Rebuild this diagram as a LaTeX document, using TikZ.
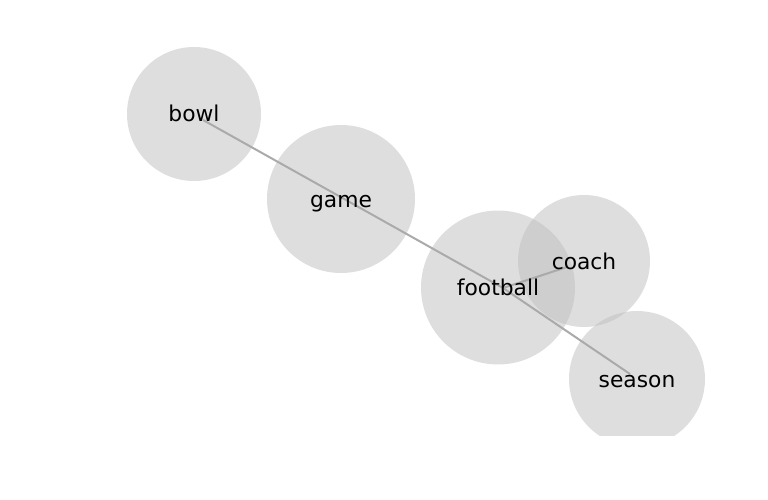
\documentclass[tikz,border=0pt]{standalone}
\usepackage{fontspec}
\setmainfont{DejaVu Sans}
\usepackage{xcolor}
\usepackage{tikz}
\usetikzlibrary{positioning}

\definecolor{bubblegray}{RGB}{190,190,190}
\definecolor{linkgray}{RGB}{170,170,170}

\begin{document}
\begin{tikzpicture}[
  x=1pt, y=-1pt,
  bubble/.style={circle, fill=bubblegray, fill opacity=0.5, draw=none, inner sep=0pt, minimum size=#1},
  word/.style={font=\fontsize{21.8}{24}\selectfont, text height=16pt, text depth=5pt, inner sep=0pt, yshift=-2.5pt},
  link/.style={draw=linkgray, line width=2pt}
]
\useasboundingbox (0,0) rectangle (768,500);
% term bubbles
\begin{scope}
\clip (0,0) rectangle (768,435);
\node[bubble=134pt] (bowl) at (194,114) {};
\node[bubble=148pt] (game) at (341,199) {};
\node[bubble=154pt] (football) at (498,287.5) {};
\node[bubble=132pt] (coach) at (584,261) {};
\node[bubble=136pt] (season) at (637,379) {};
\end{scope}
% edge end points
\coordinate (bowlpt) at (203,120);
\coordinate (gamept) at (346,200);
\coordinate (footballpt) at (503,288);
\coordinate (coachpt) at (567,267);
\coordinate (seasonpt) at (630,374);
\draw[link] (bowlpt) -- (gamept);
\draw[link] (gamept) -- (footballpt);
\draw[link] (footballpt) -- (seasonpt);
\draw[link] (footballpt) -- (coachpt);
% labels
\node[word] (bowltext) at (bowl) {bowl};
\node[word] (gametext) at (game) {game};
\node[word] (footballtext) at (football) {football};
\node[word] (coachtext) at (coach) {coach};
\node[word] (seasontext) at (season) {season};
\end{tikzpicture}
\end{document}
